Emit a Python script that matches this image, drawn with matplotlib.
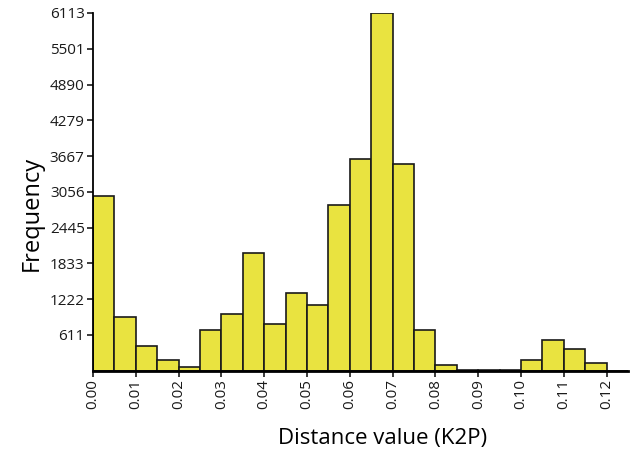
import matplotlib.pyplot as plt

# bin left edges (K2P distance) and counts
bin_width = 0.005
bin_left = [0.000, 0.005, 0.010, 0.015, 0.020, 0.025, 0.030, 0.035, 0.040, 0.045,
            0.050, 0.055, 0.060, 0.065, 0.070, 0.075, 0.080, 0.085, 0.090, 0.095,
            0.100, 0.105, 0.110, 0.115, 0.120]
counts = [2985, 913, 427, 178, 58, 701, 969, 2007, 793, 1333,
          1123, 2832, 3624, 6113, 3533, 701, 97, 8, 8, 8,
          178, 520, 366, 127, 0]

yticks = [611, 1222, 1833, 2445, 3056, 3667, 4279, 4890, 5501, 6113]
xticks = [0.00, 0.01, 0.02, 0.03, 0.04, 0.05, 0.06, 0.07, 0.08, 0.09, 0.10, 0.11, 0.12]

plt.rcParams['font.family'] = ['Open Sans', 'DejaVu Sans']

fig = plt.figure(figsize=(6.3, 4.54), dpi=100)
ax = fig.add_axes([0.1476, 0.1835, 0.8494, 0.7879])

ax.bar(bin_left, counts, width=bin_width, align='edge', color='#e9e340',
       edgecolor='#1a1a1a', linewidth=1.2)

ax.set_xlim(0, 0.125)
ax.set_ylim(0, 6113)
ax.set_yticks(yticks)
ax.set_yticklabels([str(v) for v in yticks], fontsize=11)
ax.set_xticks(xticks)
ax.set_xticklabels(["%.2f" % v for v in xticks], rotation=90, fontsize=11)

for s in ['top', 'right']:
    ax.spines[s].set_visible(False)
ax.spines['left'].set_linewidth(1.3)
ax.spines['bottom'].set_linewidth(2.0)
ax.tick_params(axis='both', direction='out', length=4, width=1.2, colors='#1a1a1a', pad=2)

ax.set_xlabel("Distance value (K2P)", fontsize=16)
ax.set_ylabel("Frequency", fontsize=17)
ax.xaxis.set_label_coords(0.542, -0.16)
ax.yaxis.set_label_coords(-0.092, 0.44)

plt.savefig('out.png', dpi=100)
